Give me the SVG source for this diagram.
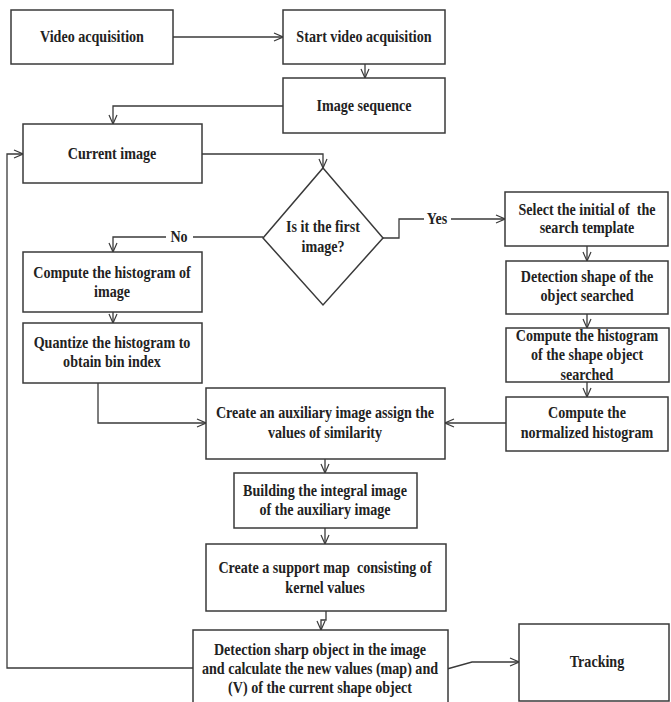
<svg xmlns="http://www.w3.org/2000/svg" width="671" height="702" viewBox="0 0 671 702">
<defs>
<style>
.box{fill:#fff;stroke:#3a3a3a;stroke-width:1.5}
.ln{fill:none;stroke:#3a3a3a;stroke-width:1.3}
.t{font-family:"Liberation Serif","Times New Roman",serif;font-weight:bold;font-size:16px;fill:#222;text-anchor:middle}
</style>
<marker id="ah" viewBox="0 0 10 10" refX="10" refY="5" markerWidth="10" markerHeight="10" markerUnits="userSpaceOnUse" orient="auto">
<path d="M1,1 L10,5 L1,9" fill="none" stroke="#3a3a3a" stroke-width="1.2"/>
</marker>
</defs>
<rect width="671" height="702" fill="#fff"/>

<g id="connectors">
<path class="ln" marker-end="url(#ah)" d="M173,37 H283"/>
<path class="ln" marker-end="url(#ah)" d="M365,64 V78"/>
<path class="ln" marker-end="url(#ah)" d="M283,106 H113 V124"/>
<path class="ln" marker-end="url(#ah)" d="M202,154 H323 V168"/>
<path class="ln" d="M383,238 H399 V219 H424"/>
<path class="ln" marker-end="url(#ah)" d="M451,219 H505"/>
<text class="t" transform="translate(437,224) scale(0.88,1)">Yes</text>
<path class="ln" d="M263,237 H193"/>
<path class="ln" marker-end="url(#ah)" d="M166,237 H113 V252"/>
<text class="t" transform="translate(179,242) scale(0.88,1)">No</text>
<path class="ln" marker-end="url(#ah)" d="M113,312 V323"/>
<path class="ln" marker-end="url(#ah)" d="M98,383 V423 H206"/>
<path class="ln" marker-end="url(#ah)" d="M587,246 V261"/>
<path class="ln" marker-end="url(#ah)" d="M587,314 V328"/>
<path class="ln" marker-end="url(#ah)" d="M587,382 V397"/>
<path class="ln" marker-end="url(#ah)" d="M506,423 H445"/>
<path class="ln" marker-end="url(#ah)" d="M325,459 V473"/>
<path class="ln" marker-end="url(#ah)" d="M325,528 V544"/>
<path class="ln" marker-end="url(#ah)" d="M326,611 V620 H321 V630"/>
<path class="ln" marker-end="url(#ah)" d="M193,668 H7 V154 H23"/>
<path class="ln" marker-end="url(#ah)" d="M447,669 L472,662 H519"/>
</g>

<g id="video-acquisition">
<rect class="box" x="11" y="10" width="162" height="54"/>
<text class="t" transform="translate(92,42) scale(0.88,1)">Video acquisition</text>
</g>
<g id="start-video">
<rect class="box" x="283" y="10" width="162" height="54"/>
<text class="t" transform="translate(364,42) scale(0.88,1)">Start video acquisition</text>
</g>
<g id="image-sequence">
<rect class="box" x="283" y="78" width="162" height="55"/>
<text class="t" transform="translate(364,111) scale(0.88,1)">Image sequence</text>
</g>
<g id="current-image">
<rect class="box" x="23" y="124" width="179" height="59"/>
<text class="t" transform="translate(112,159) scale(0.88,1)">Current image</text>
</g>
<g id="first-image">
<polygon class="box" points="323,168 383,238 323,305 263,238"/>
<text class="t" transform="translate(323,232) scale(0.88,1)"><tspan x="0">Is it the first</tspan><tspan x="0" dy="20">image?</tspan></text>
</g>
<g id="compute-histogram">
<rect class="box" x="23" y="252" width="179" height="60"/>
<text class="t" transform="translate(112,278) scale(0.88,1)"><tspan x="0">Compute the histogram of</tspan><tspan x="0" dy="19">image</tspan></text>
</g>
<g id="quantize">
<rect class="box" x="23" y="323" width="179" height="60"/>
<text class="t" transform="translate(112,348) scale(0.88,1)"><tspan x="0">Quantize the histogram to</tspan><tspan x="0" dy="19">obtain bin index</tspan></text>
</g>
<g id="select-template">
<rect class="box" x="505" y="192" width="163" height="54"/>
<text class="t" xml:space="preserve" style="white-space:pre" transform="translate(587,215) scale(0.88,1)"><tspan x="0">Select the initial of  the</tspan><tspan x="0" dy="18">search template</tspan></text>
</g>
<g id="detection-shape">
<rect class="box" x="506" y="261" width="162" height="53"/>
<text class="t" transform="translate(587,282) scale(0.88,1)"><tspan x="0">Detection shape of the</tspan><tspan x="0" dy="19">object searched</tspan></text>
</g>
<g id="histogram-shape">
<rect class="box" x="506" y="328" width="163" height="54"/>
<text class="t" transform="translate(587,341) scale(0.88,1)"><tspan x="0">Compute the histogram</tspan><tspan x="0" dy="19">of the shape object</tspan><tspan x="0" dy="20">searched</tspan></text>
</g>
<g id="normalized-histogram">
<rect class="box" x="506" y="397" width="162" height="54"/>
<text class="t" transform="translate(587,418) scale(0.88,1)"><tspan x="0">Compute the</tspan><tspan x="0" dy="20">normalized histogram</tspan></text>
</g>
<g id="auxiliary-image">
<rect class="box" x="206" y="388" width="239" height="71"/>
<text class="t" transform="translate(325,418) scale(0.88,1)"><tspan x="0">Create an auxiliary image assign the</tspan><tspan x="0" dy="20">values of similarity</tspan></text>
</g>
<g id="integral-image">
<rect class="box" x="234" y="473" width="183" height="55"/>
<text class="t" transform="translate(325,496) scale(0.88,1)"><tspan x="0">Building the integral image</tspan><tspan x="0" dy="19">of the auxiliary image</tspan></text>
</g>
<g id="support-map">
<rect class="box" x="206" y="544" width="240" height="67"/>
<text class="t" xml:space="preserve" style="white-space:pre" transform="translate(325,573) scale(0.88,1)"><tspan x="0">Create a support map  consisting of</tspan><tspan x="0" dy="20">kernel values</tspan></text>
</g>
<g id="detection-sharp">
<rect class="box" x="193" y="630" width="255" height="85"/>
<text class="t" transform="translate(320,655) scale(0.88,1)"><tspan x="0">Detection sharp object in the image</tspan><tspan x="0" dy="19">and calculate the new values (map) and</tspan><tspan x="0" dy="19">(V) of the current shape object</tspan></text>
</g>
<g id="tracking">
<rect class="box" x="519" y="624" width="150" height="77"/>
<text class="t" transform="translate(597,667) scale(0.88,1)">Tracking</text>
</g>
</svg>
